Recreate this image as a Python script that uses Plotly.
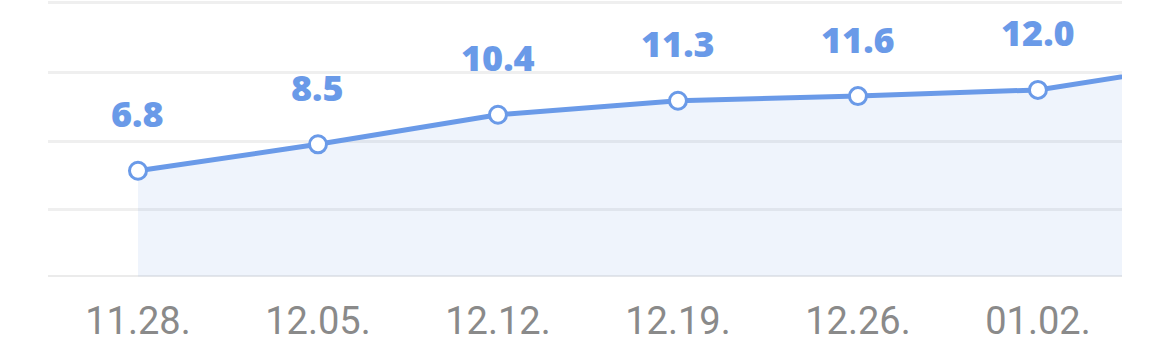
import plotly.graph_objects as go

dates = ["11.28.", "12.05.", "12.12.", "12.19.", "12.26.", "01.02.", "01.09."]
values = [6.8, 8.5, 10.4, 11.3, 11.6, 12.0, 13.8]
label_values = values[:6]
label_texts = ["6.8", "8.5", "10.4", "11.3", "11.6", "12.0"]
grid_values = [0, 4.28, 8.71, 13.15, 17.62]

LINE = "#6a9ae8"
FILL = "rgba(106,154,232,0.11)"

idx = list(range(len(dates)))

fig = go.Figure()
fig.add_trace(go.Scatter(
    x=idx, y=values, mode="lines+markers",
    line=dict(color=LINE, width=5),
    fill="tozeroy", fillcolor=FILL,
    marker=dict(size=17, color="white", line=dict(color=LINE, width=3)),
    hoverinfo="skip", cliponaxis=True,
))

for i, (v, t) in enumerate(zip(label_values, label_texts)):
    fig.add_annotation(
        x=i, y=v, text=t, showarrow=False, yanchor="middle", yshift=57,
        font=dict(family="Open Sans", size=36, color=LINE, weight=800),
    )

# baseline at zero (plotly drops gridlines at the axis ends)
fig.add_shape(type="line", xref="paper", x0=0, x1=1, yref="y", y0=grid_values[0], y1=grid_values[0],
              line=dict(color="#ebebeb", width=3), layer="below")

fig.update_layout(
    width=1170, height=361,
    margin=dict(l=48, r=48, t=0, b=84),
    paper_bgcolor="white", plot_bgcolor="white",
    showlegend=False,
    xaxis=dict(
        range=[-0.5, 5.467], tickmode="array", tickvals=idx, ticktext=dates,
        showgrid=False, zeroline=False, showline=False, ticks="",
        tickfont=dict(family="Roboto", size=38, color="#8a8a8a"),
        ticklabelstandoff=18,
    ),
    yaxis=dict(
        range=[-0.032, 17.78], tickmode="array", tickvals=grid_values,
        showticklabels=False, showgrid=True, gridcolor="#efefef", gridwidth=3,
        zeroline=False, showline=False, ticks="",
    ),
)

fig.write_html("out.html")
